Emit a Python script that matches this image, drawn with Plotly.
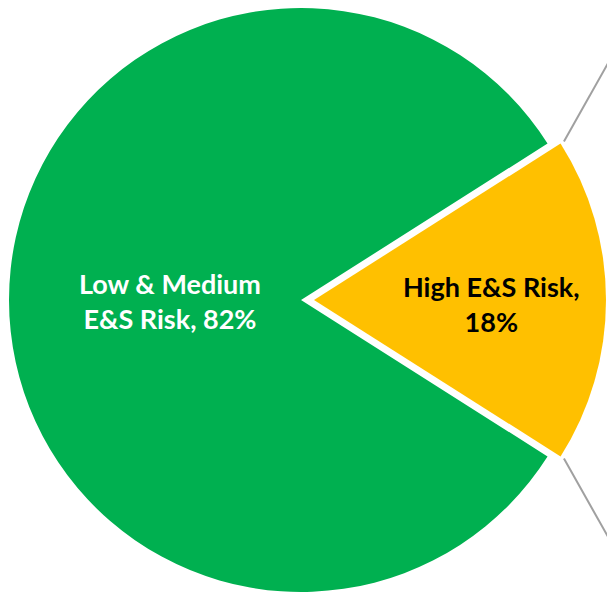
import math
import plotly.graph_objects as go

# ---- data ----
categories = ["High E&S Risk", "Low & Medium E&S Risk"]
values = [18, 82]
label_lines = [["High E&S Risk,", "18%"], ["Low & Medium", "E&S Risk, 82%"]]

# ---- style ----
W, H = 607, 595
GREEN = "#00B050"
YELLOW = "#FFC000"
CLEAR = "rgba(0,0,0,0)"
R = 292            # pie radius in px
CY = 300           # pie centre y (px from top)
CX_MAIN = 301      # centre of the whole pie
PULL = 13          # px the small slice is pulled out

total = sum(values)
half_angle = values[0] / total * 360 / 2
rotation = 90 - half_angle  # clockwise from 12 o'clock so slice 0 is centred at 3 o'clock


def dom(cx):
    return dict(x=[(cx - R) / W, (cx + R) / W],
                y=[1 - (CY + R) / H, 1 - (CY - R) / H])


fig = go.Figure()
# big slice (small slice transparent)
fig.add_trace(go.Pie(
    labels=categories, values=values, sort=False, direction="clockwise",
    rotation=rotation, domain=dom(CX_MAIN),
    marker=dict(colors=[CLEAR, GREEN], line=dict(width=0)),
    textinfo="none", hoverinfo="label+percent", showlegend=False,
))
# small slice pulled out (big slice transparent)
fig.add_trace(go.Pie(
    labels=categories, values=values, sort=False, direction="clockwise",
    rotation=rotation, domain=dom(CX_MAIN + PULL),
    marker=dict(colors=[YELLOW, CLEAR], line=dict(width=0)),
    textinfo="none", hoverinfo="label+percent", showlegend=False,
))

# labels
font = dict(family="Lato, Carlito, Calibri, sans-serif", size=27)
label_pos = [(491, 304), (170, 301)]
label_colors = ["#000000", "#FFFFFF"]
for lines, (lx, ly), col in zip(label_lines, label_pos, label_colors):
    fig.add_annotation(
        x=lx / W, y=1 - ly / H, xref="paper", yref="paper",
        text="<b>" + "<br>".join(lines) + "</b>", showarrow=False,
        font=dict(color=col, **font), align="center",
        xanchor="center", yanchor="middle",
    )

# connector lines toward the (cut-off) secondary bar
cx_small = CX_MAIN + PULL
for sgn in (1, -1):
    a = math.radians(half_angle) * sgn
    x0 = cx_small + (R + 4) * math.cos(a)
    y0 = CY - (R + 4) * math.sin(a)
    x1 = x0 + 60
    y1 = y0 - sgn * 60 * 78 / 44
    fig.add_shape(type="line", xref="paper", yref="paper",
                  x0=x0 / W, y0=1 - y0 / H, x1=x1 / W, y1=1 - y1 / H,
                  line=dict(color="#A0A0A0", width=2))

fig.update_layout(width=W, height=H, margin=dict(l=0, r=0, t=0, b=0),
                  paper_bgcolor="white", plot_bgcolor="white")
fig.write_html("out.html")
